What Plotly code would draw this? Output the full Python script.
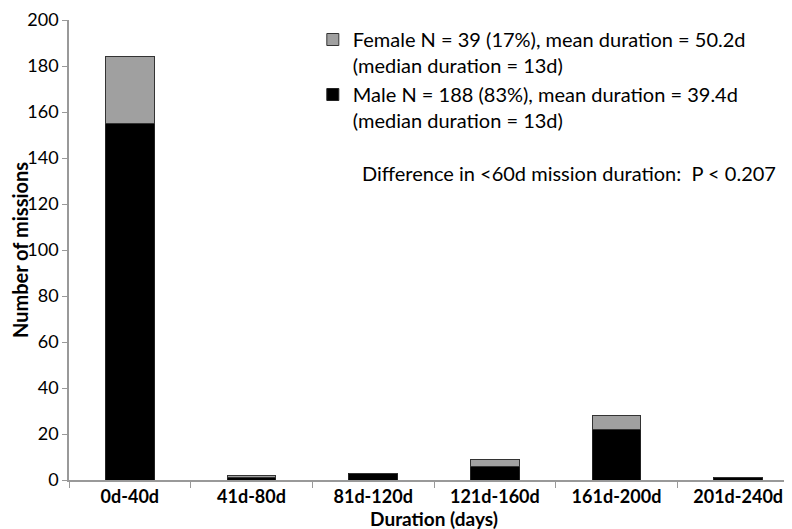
import plotly.graph_objects as go

categories = ["0d-40d", "41d-80d", "81d-120d", "121d-160d", "161d-200d", "201d-240d"]
male = [155, 1, 3, 6, 22, 1]
female = [29, 1, 0, 3, 6, 0]
y_ticks = [0, 20, 40, 60, 80, 100, 120, 140, 160, 180, 200]

female_label = "Female N = 39 (17%), mean duration = 50.2d<br>(median duration = 13d)"
male_label = "Male N = 188 (83%), mean duration = 39.4d<br>(median duration = 13d)"
p_text = "Difference in <60d mission duration:  P < 0.207"

FONT = "Lato, Carlito, 'Open Sans', sans-serif"

fig = go.Figure()
fig.add_trace(go.Bar(x=categories, y=male, name=male_label, legendgroup="m",
                     marker=dict(color="black", line=dict(color="#222", width=1))))
fig.add_trace(go.Bar(x=categories, y=female, name=female_label, legendgroup="f",
                     marker=dict(color="#a0a0a0", line=dict(color="#333", width=1))))

fig.update_layout(
    barmode="stack",
    bargap=0.6,
    width=792, height=529,
    margin=dict(l=61, r=1, t=12, b=57, autoexpand=False),
    plot_bgcolor="white", paper_bgcolor="white",
    font=dict(family=FONT, size=20, color="black"),
    showlegend=True,
    legend=dict(traceorder="reversed", x=0.334, y=1.0, xanchor="left", yanchor="top",
                font=dict(size=20), itemwidth=30, tracegroupgap=6, valign="top",
                bgcolor="rgba(0,0,0,0)"),
    xaxis=dict(showline=True, linecolor="#999", linewidth=1.5, ticks="outside",
               tickson="boundaries", tickcolor="#999", ticklen=6, automargin=False,
               title=dict(text="<b>Duration (days)</b>", font=dict(size=19), standoff=2),
               tickfont=dict(size=18)),
    yaxis=dict(range=[0, 200], tickvals=y_ticks, showline=True, linecolor="#999", linewidth=1.5,
               ticks="outside", tickcolor="#999", ticklen=5, showgrid=False, zeroline=False,
               ticklabeloverflow="allow", automargin=False,
               title=dict(text="<b>Number of missions</b>", font=dict(size=20), standoff=10),
               tickfont=dict(size=18)),
    annotations=[dict(text=p_text, xref="paper", yref="paper", x=0.3986, y=0.668,
                      xanchor="left", yanchor="middle", showarrow=False, font=dict(size=20))],
)
fig.update_xaxes(tickprefix="<b>", ticksuffix="</b>")
fig.update_yaxes(tickprefix="<b>", ticksuffix="</b>")

fig.write_html("out.html")
